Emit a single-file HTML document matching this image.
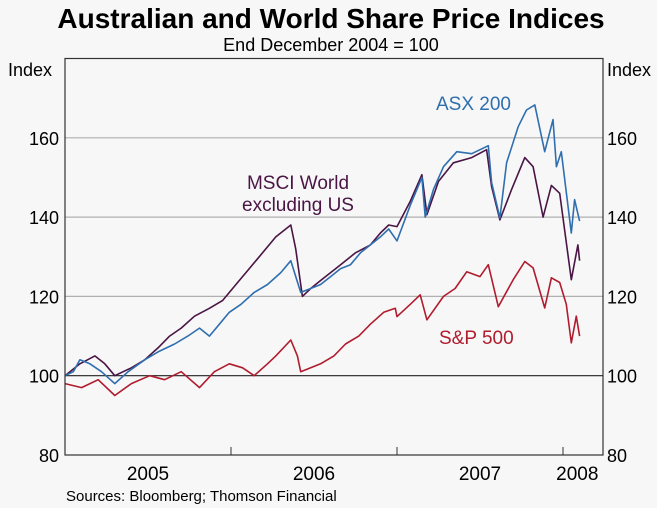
<!DOCTYPE html>
<html><head><meta charset="utf-8"><style>
body{margin:0;background:#f7f7f7;}
svg{display:block;font-family:"Liberation Sans",Arial,sans-serif;}
</style></head><body>
<svg id="chart" width="657" height="508" viewBox="0 0 657 508">
<rect width="657" height="508" fill="#f7f7f7"/>
<text x="331" y="28" text-anchor="middle" font-size="28" font-weight="bold" fill="#000">Australian and World Share Price Indices</text>
<text x="331" y="51" text-anchor="middle" font-size="18" fill="#000">End December 2004 = 100</text>
<text x="8" y="76" font-size="18">Index</text>
<text x="607" y="76" font-size="18">Index</text>
<g id="grid"></g>
<g id="series"></g>
<rect x="65" y="58.5" width="538" height="396.5" fill="none" stroke="#333" stroke-width="1.2"/>
<g id="axes"></g>
<text x="436" y="110" font-size="19" fill="#2f6faf">ASX 200</text>
<text x="298" y="189" text-anchor="middle" font-size="19" fill="#4a1545">MSCI World</text>
<text x="298" y="211" text-anchor="middle" font-size="19" fill="#4a1545">excluding US</text>
<text x="439" y="344" font-size="19" fill="#b01c2e">S&amp;P 500</text>
<text x="66" y="501" font-size="15">Sources: Bloomberg; Thomson Financial</text>
</svg>
<script>
const yTicks=[80,100,120,140,160];
const yearLabels=["2005","2006","2007","2008"];
const yearTicks=[2006,2007,2008];
const asxT=[2005.00,2005.05,2005.09,2005.15,2005.22,2005.30,2005.38,2005.48,2005.56,2005.66,2005.74,2005.81,2005.87,2005.93,2005.99,2006.06,2006.14,2006.22,2006.30,2006.36,2006.42,2006.48,2006.54,2006.60,2006.66,2006.72,2006.78,2006.84,2006.90,2006.95,2007.00,2007.08,2007.15,2007.17,2007.22,2007.28,2007.36,2007.45,2007.55,2007.57,2007.62,2007.66,2007.73,2007.78,2007.83,2007.89,2007.94,2007.96,2007.99,2008.05,2008.07,2008.10];
const asxV=[100,101,104,103,101,98,101,104,106,108,110,112,110,113,116,118,121,123,126,129,121,122,123,125,127,128,131,133,135,137,134,143,150,140,147,152.7,156.5,156,158,148.7,139.8,153.7,162.8,167,168.3,156.5,164.6,152.7,156.5,136,144.4,139];
const msciT=[2005.00,2005.09,2005.18,2005.24,2005.30,2005.40,2005.48,2005.56,2005.63,2005.70,2005.78,2005.87,2005.95,2006.05,2006.11,2006.17,2006.27,2006.36,2006.39,2006.43,2006.48,2006.54,2006.60,2006.66,2006.75,2006.84,2006.90,2006.95,2007.00,2007.08,2007.15,2007.18,2007.25,2007.34,2007.45,2007.54,2007.57,2007.62,2007.69,2007.77,2007.82,2007.88,2007.93,2007.98,2008.05,2008.09,2008.10];
const msciV=[100,103,105,103,100,102,104,107,110,112,115,117,119,124,127,130,135,138,132,120,122,124,126,128,131,133,136,138,137.6,144,150.7,140.6,149,153.7,155,157,147.7,139.3,146.9,155,152.7,140,148,146,124.2,133,129];
const spT=[2005.00,2005.10,2005.20,2005.30,2005.40,2005.51,2005.60,2005.70,2005.81,2005.90,2005.99,2006.07,2006.14,2006.22,2006.27,2006.36,2006.40,2006.42,2006.48,2006.54,2006.62,2006.69,2006.77,2006.84,2006.92,2006.99,2007.00,2007.08,2007.14,2007.18,2007.28,2007.35,2007.42,2007.50,2007.55,2007.61,2007.70,2007.77,2007.82,2007.89,2007.93,2007.98,2008.02,2008.05,2008.08,2008.10];
const spV=[98,97,99,95,98,100,99,101,97,101,103,102,100,103,105,109,105,101,102,103,105,108,110,113,116,117,114.9,118,120.4,114.1,120,122,126.2,125,128,117.4,124.2,128.8,127.2,117.1,124.7,123.5,118,108.3,115,110];
const X=t=>65+(t-2005)*166;
const Y=v=>455-(v-80)*3.965;
const NS="http://www.w3.org/2000/svg";
const grid=document.getElementById('grid'),axes=document.getElementById('axes'),ser=document.getElementById('series');
yTicks.forEach(v=>{
 if(v>80){const l=document.createElementNS(NS,'line');
 
 
 l.setAttribute('x1',65);l.setAttribute('x2',603);l.setAttribute('y1',Y(v));l.setAttribute('y2',Y(v));
 l.setAttribute('stroke',v===100?'#222':'#b0b0b0');l.setAttribute('stroke-width',1.2);grid.appendChild(l);}
 [[59,'end'],[607,'start']].forEach((p,i)=>{const t=document.createElementNS(NS,'text');
 
 
 t.setAttribute('x',p[0]);t.setAttribute('y',Y(v)+7);t.setAttribute('text-anchor',p[1]);t.setAttribute('font-size','18');t.textContent=v;axes.appendChild(t);});
});
yearTicks.forEach(yr=>{const l=document.createElementNS(NS,'line');
 
 
 l.setAttribute('x1',X(yr));l.setAttribute('x2',X(yr));l.setAttribute('y1',447);l.setAttribute('y2',455);l.setAttribute('stroke','#333');axes.appendChild(l);});
yearLabels.forEach((s,i)=>{const t=document.createElementNS(NS,'text');
 
 
 const yr=+s;const cx=i<3?X(yr+0.5):(X(yr)+X(2008.1))/2+6;
 t.setAttribute('x',cx);t.setAttribute('y',480);t.setAttribute('text-anchor','middle');t.setAttribute('font-size','19');t.textContent=s;axes.appendChild(t);});
function line(ts,vs,color,name){const p=document.createElementNS(NS,'polyline');
 
 
 p.setAttribute('points',ts.map((t,i)=>X(t).toFixed(1)+','+Y(vs[i]).toFixed(1)).join(' '));
 p.setAttribute('fill','none');p.setAttribute('stroke',color);p.setAttribute('stroke-width','1.6');p.setAttribute('stroke-linejoin','round');ser.appendChild(p);}
line(spT,spV,'#b01c2e','sp-500-line');
line(msciT,msciV,'#4a1545','msci-world-line');
line(asxT,asxV,'#2f6faf','asx-200-line');
</script>
</body></html>
